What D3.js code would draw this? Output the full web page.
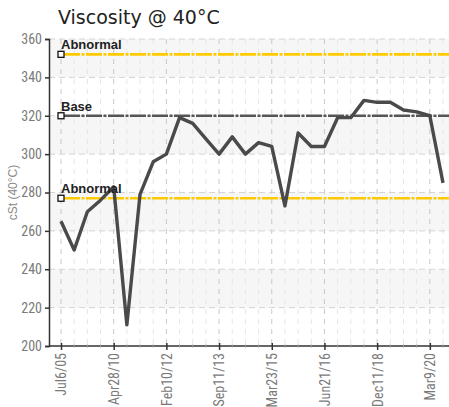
<!DOCTYPE html>
<html>
<head>
<meta charset="utf-8">
<script src="https://cdn.jsdelivr.net/npm/d3@7"></script>
<style>
  html, body { margin: 0; padding: 0; background: #fff; overflow: hidden; }
  svg { display: block; }
</style>
</head>
<body>
<script>
const title = "Viscosity @ 40°C";
const yTitle = "cSt (40°C)";
const values = [265, 250, 270, 276, 283, 211, 279, 296, 300, 319,
                316, 308, 300, 309, 300, 306, 304, 273, 311, 304,
                304, 319, 319, 328, 327, 327, 323, 322, 320, 285];
const tickIndex = [0, 4, 8, 12, 16, 20, 24, 28];
const tickLabels = ["Jul6/05", "Apr28/10", "Feb10/12", "Sep11/13", "Mar23/15", "Jun21/16", "Dec11/18", "Mar9/20"];
const yTicks = [200, 220, 240, 260, 280, 300, 320, 340, 360];
const refNames = ["Abnormal", "Base", "Abnormal"];
const refValues = [352, 320, 277];
const refColors = ["#ffca00", "#555555", "#ffca00"];

const W = 449, H = 407;
const mLeft = 49, mRight = 456, mTop = 39, mBottom = 346;

const svg = d3.select("body").append("svg").attr("width", W).attr("height", H);

const x = d3.scaleLinear().domain([0, 29]).range([61, 443]);
const y = d3.scaleLinear().domain([200, 360]).range([mBottom, mTop]);

// bands
for (let i = 0; i < yTicks.length - 1; i++) {
  if (i % 2 === 1) {
    svg.append("rect")
      .attr("x", mLeft).attr("width", mRight - mLeft)
      .attr("y", y(yTicks[i + 1])).attr("height", y(yTicks[i]) - y(yTicks[i + 1]))
      .attr("fill", "#f6f6f6");
  }
}

// vertical grid
svg.append("g").selectAll("line").data(d3.range(0, 30)).join("line")
  .attr("x1", d => x(d)).attr("x2", d => x(d))
  .attr("y1", mTop).attr("y2", mBottom)
  .attr("stroke", d => tickIndex.includes(d) ? "#c8c8c8" : "#e6e6e6")
  .attr("stroke-width", 1)
  .attr("stroke-dasharray", "5,5");

// horizontal grid
svg.append("g").selectAll("line").data(yTicks.slice(1)).join("line")
  .attr("x1", mLeft).attr("x2", mRight)
  .attr("y1", d => y(d)).attr("y2", d => y(d))
  .attr("stroke", "#d4d4d4")
  .attr("stroke-width", 1)
  .attr("stroke-dasharray", "6,4");

// Y axis
const yAxis = svg.append("g").attr("transform", `translate(${mLeft},0)`)
  .call(d3.axisLeft(y).tickValues(yTicks).tickSize(4).tickPadding(3));
yAxis.select(".domain").attr("stroke", "#333").attr("stroke-width", 1.5);
yAxis.selectAll(".tick line").attr("stroke", "#333").attr("stroke-width", 1.5);
yAxis.selectAll("text")
  .attr("fill", "#7a7a7a")
  .style("font-family", "'Liberation Sans Narrow', 'Roboto Condensed', 'Liberation Sans', sans-serif")
  .style("font-size", "14px");

// X axis
const xAxis = svg.append("g").attr("transform", `translate(0,${mBottom})`)
  .call(d3.axisBottom(x).tickValues(tickIndex).tickFormat((d, i) => tickLabels[i]).tickSize(4).tickPadding(5));
xAxis.select(".domain").attr("d", `M${mLeft},0H${mRight}`).attr("stroke", "#333").attr("stroke-width", 1.5);
xAxis.selectAll(".tick line").attr("y1", -3).attr("stroke", "#333").attr("stroke-width", 1.5);
xAxis.selectAll("text")
  .attr("fill", "#7a7a7a")
  .style("font-family", "'Liberation Sans Narrow', 'Roboto Condensed', 'Liberation Sans', sans-serif")
  .style("font-size", "14px")
  .attr("text-anchor", "end")
  .attr("transform", "rotate(-90)")
  .attr("x", -7).attr("y", 0).attr("dy", "0.35em");
// minor ticks
svg.append("g").selectAll("line").data(d3.range(0, 30).filter(d => !tickIndex.includes(d))).join("line")
  .attr("x1", d => x(d)).attr("x2", d => x(d))
  .attr("y1", mBottom - 1.5).attr("y2", mBottom + 1.5)
  .attr("stroke", "#999").attr("stroke-width", 1);

// Reference lines
refValues.forEach((v, i) => {
  svg.append("line")
    .attr("x1", x(0) + 3).attr("x2", mRight)
    .attr("y1", y(v)).attr("y2", y(v))
    .attr("stroke", refColors[i]).attr("stroke-width", 2.6)
    .attr("stroke-dasharray", "16,1.5,3,1.5");
});

// Data line
svg.append("path")
  .datum(values)
  .attr("fill", "none")
  .attr("stroke", "#4a4a4a")
  .attr("stroke-width", 3.4)
  .attr("stroke-linejoin", "round")
  .attr("d", d3.line().x((d, i) => x(i)).y(d => y(d)));

// markers + labels
refValues.forEach((v, i) => {
  svg.append("rect")
    .attr("x", x(0) - 3).attr("y", y(v) - 3)
    .attr("width", 6).attr("height", 6)
    .attr("fill", "#fff").attr("stroke", "#111").attr("stroke-width", 1.3);
  svg.append("text")
    .attr("x", x(0)).attr("y", y(v) - 5)
    .attr("fill", "#222")
    .style("font-family", "'Liberation Sans Narrow', 'Liberation Sans', sans-serif")
    .style("font-size", "13px")
    .style("font-weight", "bold")
    .text(refNames[i]);
});

// Y title
svg.append("text")
  .attr("transform", `translate(17,${(mTop + mBottom) / 2}) rotate(-90)`)
  .attr("text-anchor", "middle")
  .attr("fill", "#8a8a8a")
  .style("font-family", "'Liberation Sans Narrow', 'Liberation Sans', sans-serif")
  .style("font-size", "12px")
  .text(yTitle);

// Title
svg.append("text")
  .attr("x", 58).attr("y", 24)
  .attr("fill", "#222")
  .style("font-family", "'DejaVu Sans', Verdana, sans-serif")
  .style("font-size", "19px")
  .text(title);
</script>
</body>
</html>
